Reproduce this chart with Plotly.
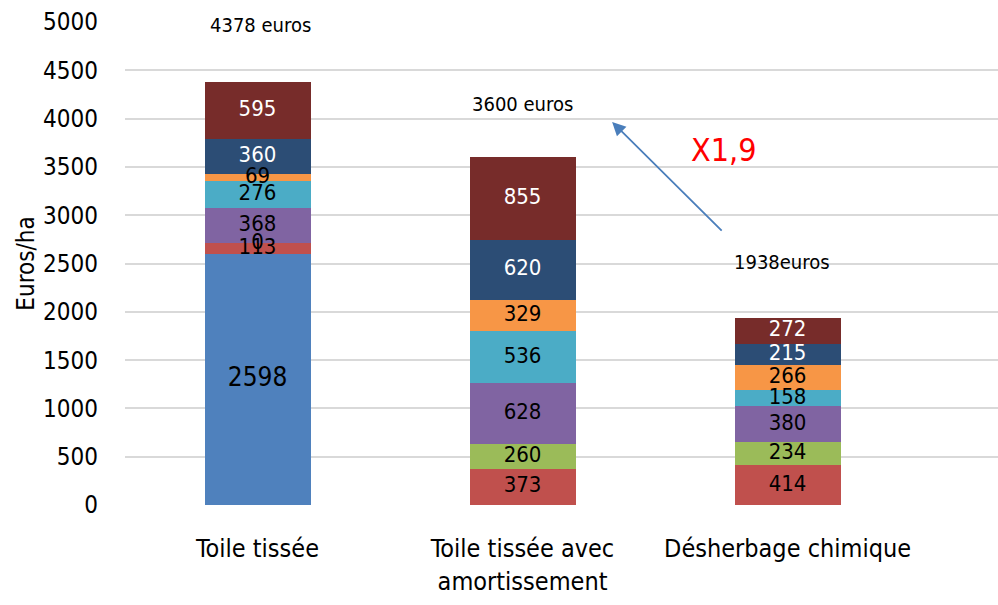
import plotly.graph_objects as go
import numpy as np

categories = ["Toile tissée", "Toile tissée avec<br>amortissement", "Désherbage chimique"]
s_blue = [2598, 0, 0]
s_red = [113, 373, 414]
s_green = [0, 260, 234]
s_purple = [368, 628, 380]
s_teal = [276, 536, 158]
s_orange = [69, 329, 266]
s_navy = [360, 620, 215]
s_maroon = [595, 855, 272]
totals_text = ["4378 euros", "3600 euros", "1938euros"]

series = [s_blue, s_red, s_green, s_purple, s_teal, s_orange, s_navy, s_maroon]
colors = ["#4F81BD", "#C0504D", "#9BBB59", "#8064A2", "#4BACC6", "#F79646", "#2C4D75", "#772C2A"]
# which labels are shown (blue zeros hidden in bars 2,3)
show = [[True, False, False]] + [[True] * 3 for _ in range(7)]

FONT = "Liberation Sans Narrow, DejaVu Sans Condensed, Arial Narrow, sans-serif"
xs = [0, 1, 2]

fig = go.Figure()
for vals, col in zip(series, colors):
    fig.add_trace(go.Bar(x=xs, y=vals, marker=dict(color=col, line=dict(width=0)),
                         width=0.4, showlegend=False, hoverinfo="skip"))

cum = np.zeros(3)
lx, ly, lt, ls = [], [], [], []
for vals, sh in zip(series, show):
    v = np.array(vals, dtype=float)
    mid = cum + v / 2
    for i in range(3):
        if sh[i]:
            lx.append(xs[i]); ly.append(mid[i]); lt.append(str(vals[i]))
            ls.append(26 if vals[i] > 1000 else 22)
    cum += v

txtcolors = ["white" if (t in ("595", "360", "855", "620", "272", "215")) else "black" for t in lt]
fig.add_trace(go.Scatter(x=lx, y=ly, text=lt, mode="text", showlegend=False, hoverinfo="skip",
                         textfont=dict(family=FONT, size=ls, color=txtcolors)))

# total annotations
tot_y = [4970, 4150, 2515]
tot_x = [0.01, 1.0, 1.98]
for tx, ty, tt in zip(tot_x, tot_y, totals_text):
    fig.add_annotation(x=tx, y=ty, text=tt, showarrow=False,
                       font=dict(family=FONT, size=20, color="#000000"))

fig.add_annotation(x=1.76, y=3680, text="X1,9", showarrow=False,
                   font=dict(family=FONT, size=32, color="#FF0000"))
fig.add_annotation(x=1.338, y=3965, ax=1.757, ay=2826, xref="x", yref="y", axref="x", ayref="y",
                   text="", showarrow=True, arrowhead=2, arrowsize=1.5, arrowwidth=1.8,
                   arrowcolor="#4A7EBB")

fig.update_layout(
    width=998, height=605,
    margin=dict(l=125, r=0, t=22, b=100),
    plot_bgcolor="white", paper_bgcolor="white",
    barmode="stack",
    xaxis=dict(range=[-0.5, 2.794], tickvals=xs, ticktext=categories, showgrid=False,
               zeroline=False, showline=False, ticks="", automargin=False, ticklabelstandoff=26,
               tickfont=dict(family=FONT, size=25, color="#000000")),
    yaxis=dict(range=[0, 5000], dtick=500, showgrid=True, gridcolor="#D9D9D9", gridwidth=1.5,
               zeroline=False, showline=False, ticks="", ticklabelstandoff=26, automargin=False,
               tickfont=dict(family=FONT, size=24, color="#000000"),
               title=dict(text="Euros/ha", font=dict(family=FONT, size=24, color="#000000"), standoff=1)),
)

fig.write_html("out.html", config={"displayModeBar": False},
               post_script="document.body.style.margin='0';document.body.style.overflow='hidden';")
